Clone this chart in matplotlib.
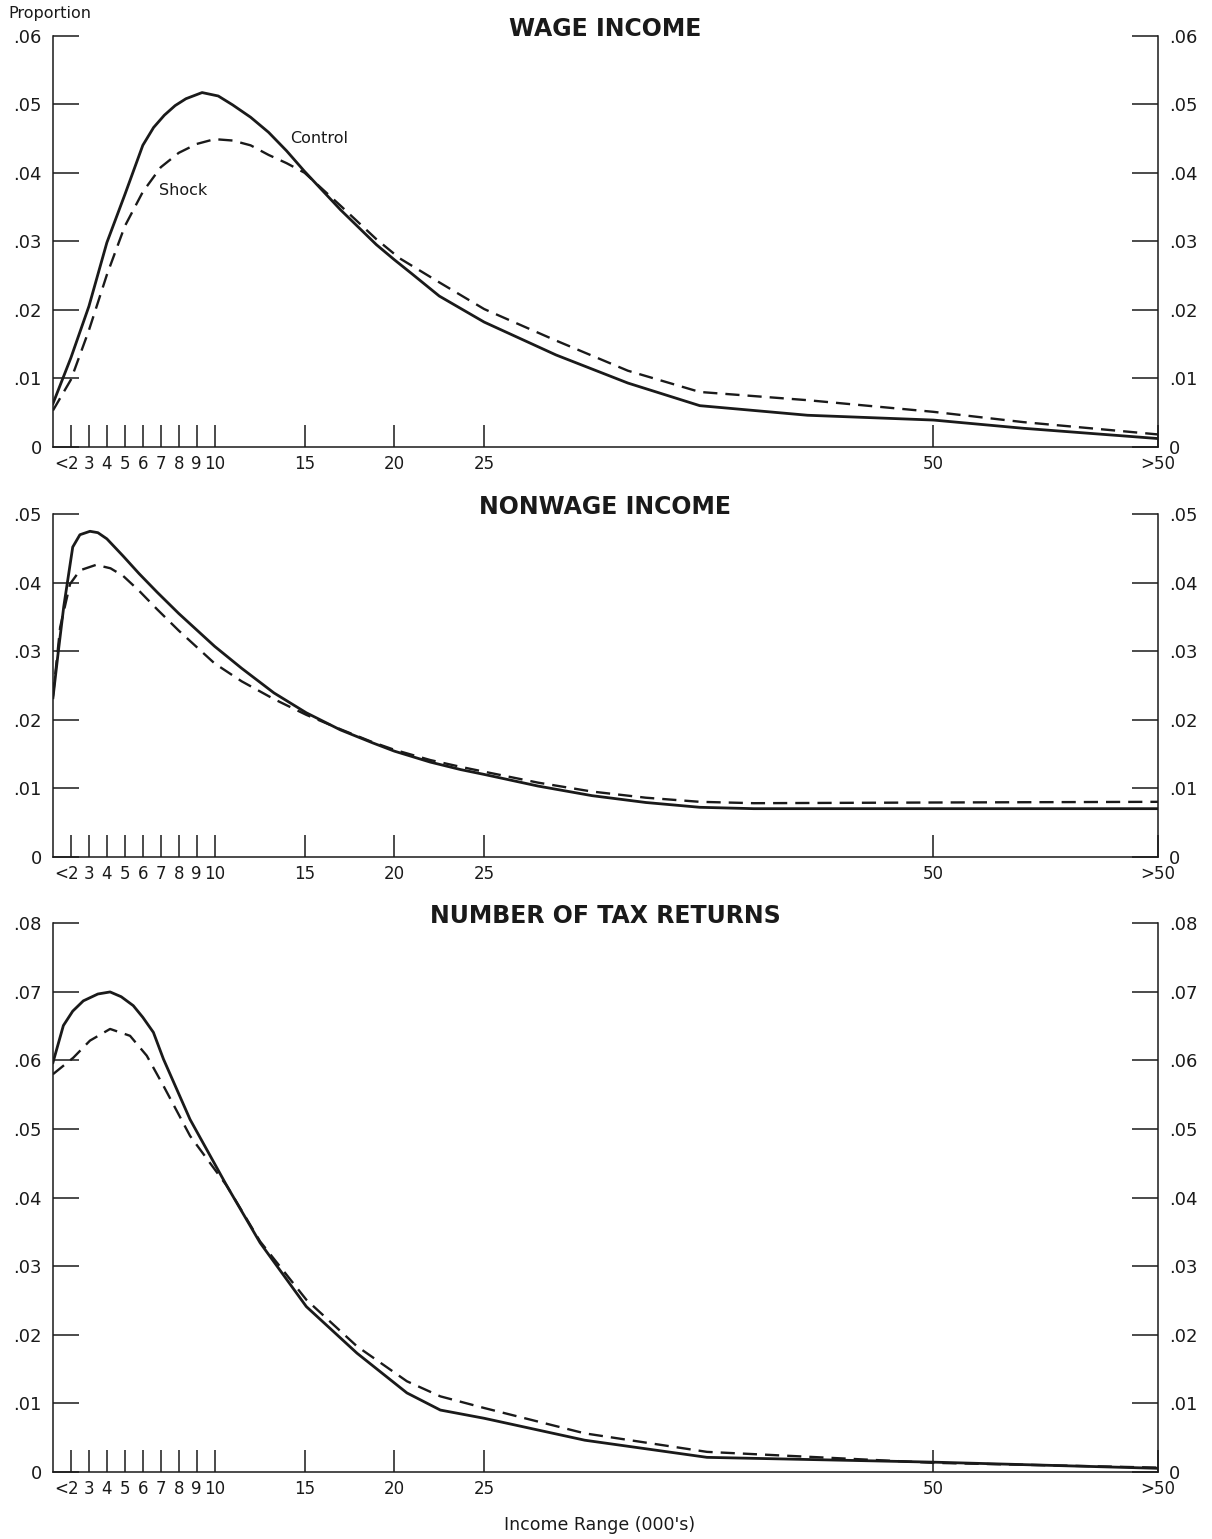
import numpy as np
import matplotlib.pyplot as plt
from matplotlib.transforms import ScaledTranslation

plt.rcParams['font.family'] = ['DejaVu Sans']

# Data (income in thousands, proportion of total)
wage_x_control = [1, 2, 3, 4, 5, 6, 6.6, 7.2, 7.8, 8.4, 9.3, 10.2, 11, 12, 13, 14, 15, 17, 19, 20,
                  21, 22.5, 25, 29, 33, 37, 43, 50, 55, 62.5]
wage_control = [.0063, .0130, .0205, .0298, .0368, .0440, .0466, .0484, .0498, .0508, .0517, .0512,
                .0499, .0481, .0459, .0432, .0402, .0346, .0295, .0273, .0252, .0220, .0182,
                .0134, .0093, .0060, .0046, .0039, .0027, .0012]
wage_x_shock = [1, 2, 3, 4, 5, 6, 7, 8, 9, 10, 11, 12, 13, 14, 15, 17, 19, 20.3, 22.5, 25, 29, 33,
                37, 43, 50, 55, 62.5]
wage_shock = [.0053, .0098, .0170, .0251, .0322, .0372, .0408, .0429, .0442, .0449, .0447, .0440,
              .0426, .0414, .0400, .0352, .0303, .0275, .0240, .0201, .0155, .0111, .0080, .0068,
              .0051, .0036, .0018]

nonwage_x = [1, 1.3, 1.6, 2.1, 2.5, 3.06, 3.5, 4, 4.9, 5.8, 6.8, 8, 10, 11.5, 13.3, 15.1, 17, 18.8,
             20, 22, 23.7, 25, 28, 31, 34, 37, 40, 50, 62.5]
nonwage_control = [.0232, .0300, .0365, .0452, .0470, .0475, .0473, .0464, .0439, .0413, .0386,
                   .0355, .0307, .0275, .0239, .0210, .0185, .0166, .0154, .0138, .0127, .0120,
                   .0103, .0089, .0079, .0072, .0070, .0070, .0070]
nonwage_x_shock = [1, 1.4, 1.95, 2.5, 3.4, 4.2, 4.9, 5.8, 6.8, 8, 10, 11.5, 13.3, 15.1, 17, 18.8,
                   20, 22, 23.7, 25, 28, 31, 34, 37, 40, 50, 62.5]
nonwage_shock = [.0234, .0335, .0398, .0418, .0426, .0421, .0410, .0388, .0361, .0330, .0282,
                 .0256, .0230, .0207, .0186, .0167, .0156, .0141, .0131, .0124, .0108, .0095,
                 .0086, .0080, .0078, .0079, .0080]

returns_x_control = [1, 1.58, 2.1, 2.69, 3.5, 4.18, 4.8, 5.47, 6.0, 6.59, 7.15, 8.63, 10.68, 12.53,
                     15.1, 17.92, 20.7, 22.56, 25, 30.6, 37.4, 50, 62.5]
returns_control = [.0597, .0651, .0672, .0687, .0697, .0700, .0693, .0680, .0663, .0641, .0602,
                   .0514, .0417, .0334, .0241, .0173, .0115, .0090, .0078, .0046, .0021, .0014,
                   .0005]
returns_x_shock = [1, 2.13, 3.06, 4.18, 5.29, 6.22, 7.15, 8.63, 10.68, 12.53, 15.1, 17.92, 20.7,
                   22.56, 25, 30.6, 37.4, 50, 62.5]
returns_shock = [.0580, .0604, .0629, .0646, .0636, .0607, .0563, .0490, .0417, .0336, .0251,
                 .0183, .0132, .0110, .0093, .0056, .0029, .0013, .0006]

# Axis ticks and labels
x_ticks = [2, 3, 4, 5, 6, 7, 8, 9, 10, 15, 20, 25, 50, 62.5]
x_labels = ['<2', '3', '4', '5', '6', '7', '8', '9', '10', '15', '20', '25', '50', '>50']
y_labels = ['0', '.01', '.02', '.03', '.04', '.05', '.06', '.07', '.08']

titles = ['WAGE INCOME', 'NONWAGE INCOME', 'NUMBER OF TAX RETURNS']
y_max = [0.06, 0.05, 0.08]

ink = '#1a1a1a'
fig = plt.figure(figsize=(12.12, 15.39), dpi=100)

# Panel rectangles (left, bottom, width, height) in figure fraction
rects = [(0.0437, 0.7097, 0.9117, 0.2671),
         (0.0437, 0.4434, 0.9117, 0.2225),
         (0.0437, 0.0437, 0.9117, 0.3563)]

series = [
    (wage_x_control, wage_control, wage_x_shock, wage_shock),
    (nonwage_x, nonwage_control, nonwage_x_shock, nonwage_shock),
    (returns_x_control, returns_control, returns_x_shock, returns_shock),
]

for i in range(3):
    ax = fig.add_axes(rects[i])
    xc, yc, xs, ys = series[i]
    ax.plot(xc, yc, color=ink, lw=2.0, solid_joinstyle='round')
    ax.plot(xs, ys, color=ink, lw=1.7, linestyle=(0, (6, 3.4)))

    ax.set_xlim(1, 62.5)
    ax.set_ylim(0, y_max[i])

    n = int(round(y_max[i] / 0.01))
    ax.set_yticks(np.arange(n + 1) * 0.01)
    ax.set_yticklabels(y_labels[:n + 1])
    ax.set_xticks(x_ticks)
    ax.set_xticklabels(x_labels)

    ax.spines['top'].set_visible(False)
    for s in ['left', 'right', 'bottom']:
        ax.spines[s].set_linewidth(1.1)
        ax.spines[s].set_color(ink)

    ax.tick_params(axis='y', direction='in', left=True, right=True, labelleft=True,
                   labelright=True, length=19, width=1.1, pad=8, labelsize=13, colors=ink)
    ax.tick_params(axis='x', direction='in', length=16, width=1.1, pad=6, labelsize=12,
                   colors=ink)

    # nudge "<2" a little to the left so it clears the "3"
    lab = ax.get_xticklabels()[0]
    lab.set_transform(lab.get_transform() + ScaledTranslation(-3 / 72, 0, fig.dpi_scale_trans))

    ax.text(0.5, 1.0, titles[i], transform=ax.transAxes, ha='center', va='baseline',
            fontsize=17, fontweight='bold', color=ink)

# Curve labels in the top panel
ax_top = fig.axes[0]
ax_top.text(14.2, 0.0450, 'Control', fontsize=11.5, color=ink, va='center')
ax_top.text(6.9, 0.0374, 'Shock', fontsize=11.5, color=ink, va='center')

fig.text(0.0066, 0.991, 'Proportion', fontsize=11.5, color=ink, va='center')
fig.text(0.495, 0.009, "Income Range (000's)", fontsize=12.5, color=ink, ha='center',
         va='center')

plt.savefig('out.png', dpi=100)
